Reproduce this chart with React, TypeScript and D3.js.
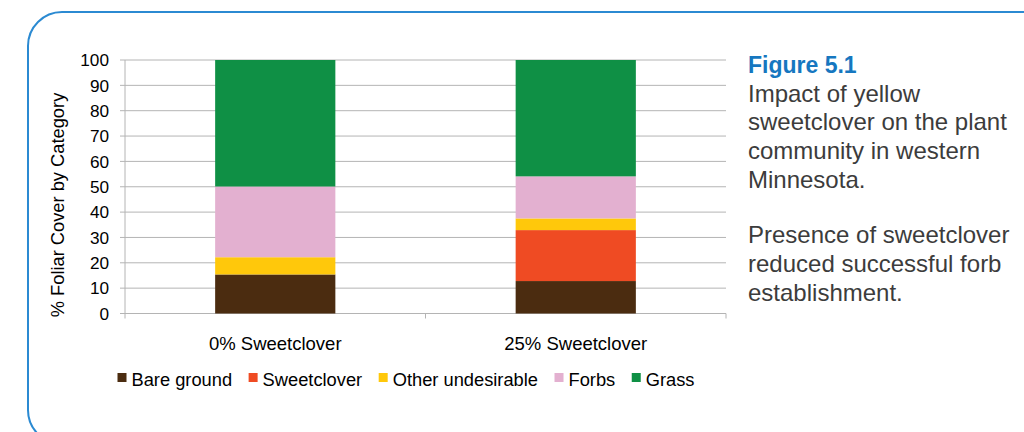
import * as d3 from 'd3';
import { useMemo } from 'react';

const categories = ['0% Sweetclover', '25% Sweetclover'];
const seriesNames = ['Bare ground', 'Sweetclover', 'Other undesirable', 'Forbs', 'Grass'];
const seriesColors = ['#4b2c10', '#ef4b23', '#ffc80b', '#e3b0d0', '#0f9045'];
// values per category, in series order
const bareGround = [15.4, 12.8];
const sweetclover = [0, 20.1];
const otherUndesirable = [6.8, 4.6];
const forbs = [27.9, 16.6];
const grass = [49.9, 45.9];
const yTicks = [0, 10, 20, 30, 40, 50, 60, 70, 80, 90, 100];

const captionTitle = 'Figure 5.1';
const captionPara1 = ['Impact of yellow', 'sweetclover on the plant', 'community in western', 'Minnesota.'];
const captionPara2 = ['Presence of sweetclover', 'reduced successful forb', 'establishment.'];

const FONT = '"Liberation Sans", Arial, Helvetica, sans-serif';

function textWidth(s: string, size: number) {
  const c = document.createElement('canvas').getContext('2d')!;
  c.font = `${size}px "Liberation Sans", Arial, sans-serif`;
  return c.measureText(s).width;
}

export default function App() {
  const width = 1024;
  const height = 432;
  const plot = { left: 125, right: 726, top: 60, bottom: 313.5 };

  const x = d3.scaleBand().domain(categories).range([plot.left, plot.right]).paddingInner(0.6).paddingOuter(0.3);
  const xOuter = d3.scaleBand().domain(categories).range([plot.left, plot.right]);
  const y = d3.scaleLinear().domain([0, 100]).range([plot.bottom, plot.top]);

  const rows = categories.map((c, i) => ({
    cat: c,
    'Bare ground': bareGround[i],
    Sweetclover: sweetclover[i],
    'Other undesirable': otherUndesirable[i],
    Forbs: forbs[i],
    Grass: grass[i],
  }));
  const stacked = useMemo(() => d3.stack<any>().keys(seriesNames)(rows), []);

  // legend layout
  const legendY = 386;
  const legendSize = 18.3;
  const sq = 9;
  let lx = 117.5;
  const legendItems = seriesNames.map((name, i) => {
    const item = { name, color: seriesColors[i], x: lx };
    lx += sq + 5 + textWidth(name, legendSize) + 16.5;
    return item;
  });

  return (
    <div style={{ position: 'absolute', left: 0, top: 0 }}>
      <svg width={width} height={height} style={{ display: 'block', background: '#fff' }}>
        <rect x={28} y={12} width={1100} height={432} rx={34} fill="none" stroke="#2b8ad2" strokeWidth={2} />

        {/* gridlines */}
        {yTicks.map((t) => (
          <line key={t} x1={plot.left - 5} x2={plot.right} y1={y(t)} y2={y(t)} stroke="#b4b4b4" strokeWidth={1} />
        ))}
        <line x1={plot.left} x2={plot.left} y1={plot.top} y2={plot.bottom} stroke="#b4b4b4" />
        {/* x axis tick marks at band edges */}
        {[...categories.map((c) => xOuter(c)!), plot.right].map((v, i) => (
          <line key={i} x1={v} x2={v} y1={plot.bottom} y2={plot.bottom + 5} stroke="#b4b4b4" />
        ))}

        {/* bars */}
        {stacked.map((layer, si) =>
          layer.map((d, ci) =>
            d[1] - d[0] > 0 ? (
              <rect
                key={`${si}-${ci}`}
                x={x(categories[ci])}
                width={x.bandwidth()}
                y={y(d[1])}
                height={y(d[0]) - y(d[1])}
                fill={seriesColors[si]}
              />
            ) : null,
          ),
        )}

        {/* y tick labels */}
        {yTicks.map((t) => (
          <text key={t} x={109} y={y(t)} dy="0.36em" textAnchor="end" fontSize={17.2} fontFamily={FONT} fill="#000">
            {t}
          </text>
        ))}
        <text
          transform={`translate(64,205) rotate(-90)`}
          textAnchor="middle"
          fontSize={18.3}
          fontFamily={FONT}
          fill="#000"
        >
          % Foliar Cover by Category
        </text>

        {/* category labels */}
        {categories.map((c) => (
          <text key={c} x={x(c)! + x.bandwidth() / 2} y={349.5} textAnchor="middle" fontSize={18.5} fontFamily={FONT} fill="#000">
            {c}
          </text>
        ))}

        {/* legend */}
        {legendItems.map((it) => (
          <g key={it.name}>
            <rect x={it.x} y={legendY - 13} width={sq} height={sq} fill={it.color} />
            <text x={it.x + sq + 5} y={legendY} fontSize={legendSize} fontFamily={FONT} fill="#000">
              {it.name}
            </text>
          </g>
        ))}

        {/* caption */}
        <text x={748} y={73} fontSize={23} fontWeight="bold" fontFamily={FONT} fill="#1677c0">
          {captionTitle}
        </text>
        {captionPara1.map((l, i) => (
          <text key={l} x={748} y={101.5 + i * 28.8} fontSize={24} fontFamily={FONT} fill="#3c3c3c">
            {l}
          </text>
        ))}
        {captionPara2.map((l, i) => (
          <text key={l} x={748} y={243 + i * 28.8} fontSize={24} fontFamily={FONT} fill="#3c3c3c">
            {l}
          </text>
        ))}
      </svg>
    </div>
  );
}
